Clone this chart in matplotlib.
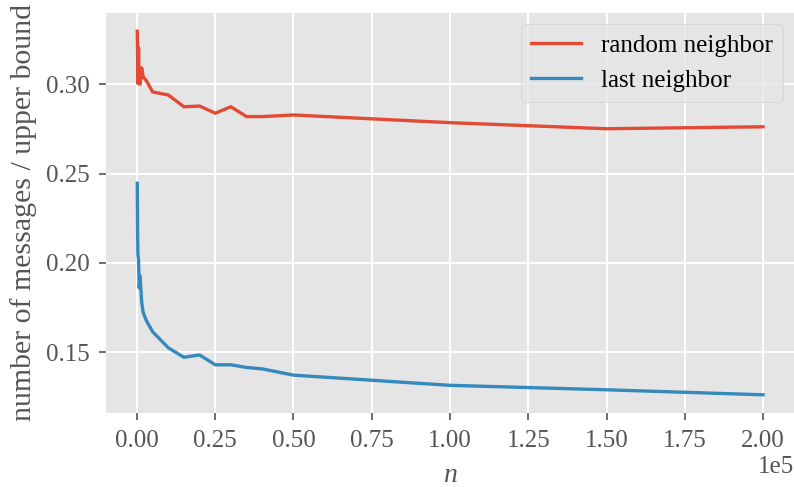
import matplotlib
matplotlib.use("Agg")
import matplotlib.pyplot as plt

plt.style.use("ggplot")
plt.rcParams["font.family"] = ["Liberation Serif", "DejaVu Serif"]
plt.rcParams["mathtext.fontset"] = "custom"
plt.rcParams["mathtext.rm"] = "Liberation Serif"
plt.rcParams["mathtext.it"] = "Liberation Serif:italic"

# размер сети и отношение числа сообщений к верхней оценке
n = [100, 200, 300, 500, 700, 1000, 1500, 2000, 3000, 5000, 10000, 15000,
     20000, 25000, 30000, 35000, 40000, 50000, 100000, 150000, 200000]
random_neighbor = [0.3297, 0.3180, 0.3005, 0.3205, 0.3010, 0.3000, 0.3092,
                   0.3040, 0.3020, 0.2957, 0.2940, 0.2874, 0.2878, 0.2838,
                   0.2874, 0.2819, 0.2819, 0.2828, 0.2785, 0.2751, 0.2762]
last_neighbor = [0.2446, 0.2180, 0.2050, 0.2018, 0.1860, 0.1926, 0.1780,
                 0.1722, 0.1677, 0.1615, 0.1525, 0.1472, 0.1485, 0.1430,
                 0.1430, 0.1415, 0.1407, 0.1372, 0.1315, 0.1290, 0.1262]

fig = plt.figure(figsize=(7.94, 4.87), dpi=100)
ax = fig.add_axes([0.1335, 0.152, 0.8669, 0.8213])

ax.plot(n, random_neighbor, linewidth=2.4, label="random neighbor")
ax.plot(n, last_neighbor, linewidth=2.4, label="last neighbor")

for s in ax.spines.values():
    s.set_visible(False)
ax.grid(True, color="white", linewidth=1.4)

ax.set_xlabel("$n$", fontsize=20, labelpad=8)
ax.set_ylabel("number of messages / upper bound", fontsize=21.5, labelpad=6)
ax.tick_params(labelsize=18, length=5, width=1.2, pad=7, color="#555555")
ax.ticklabel_format(axis="x", style="sci", scilimits=(0, 0))
ax.xaxis.get_offset_text().set_fontsize(18)
ax.legend(fontsize=18, loc="upper right", borderaxespad=0.45)

fig.savefig("out.png", dpi=100)
